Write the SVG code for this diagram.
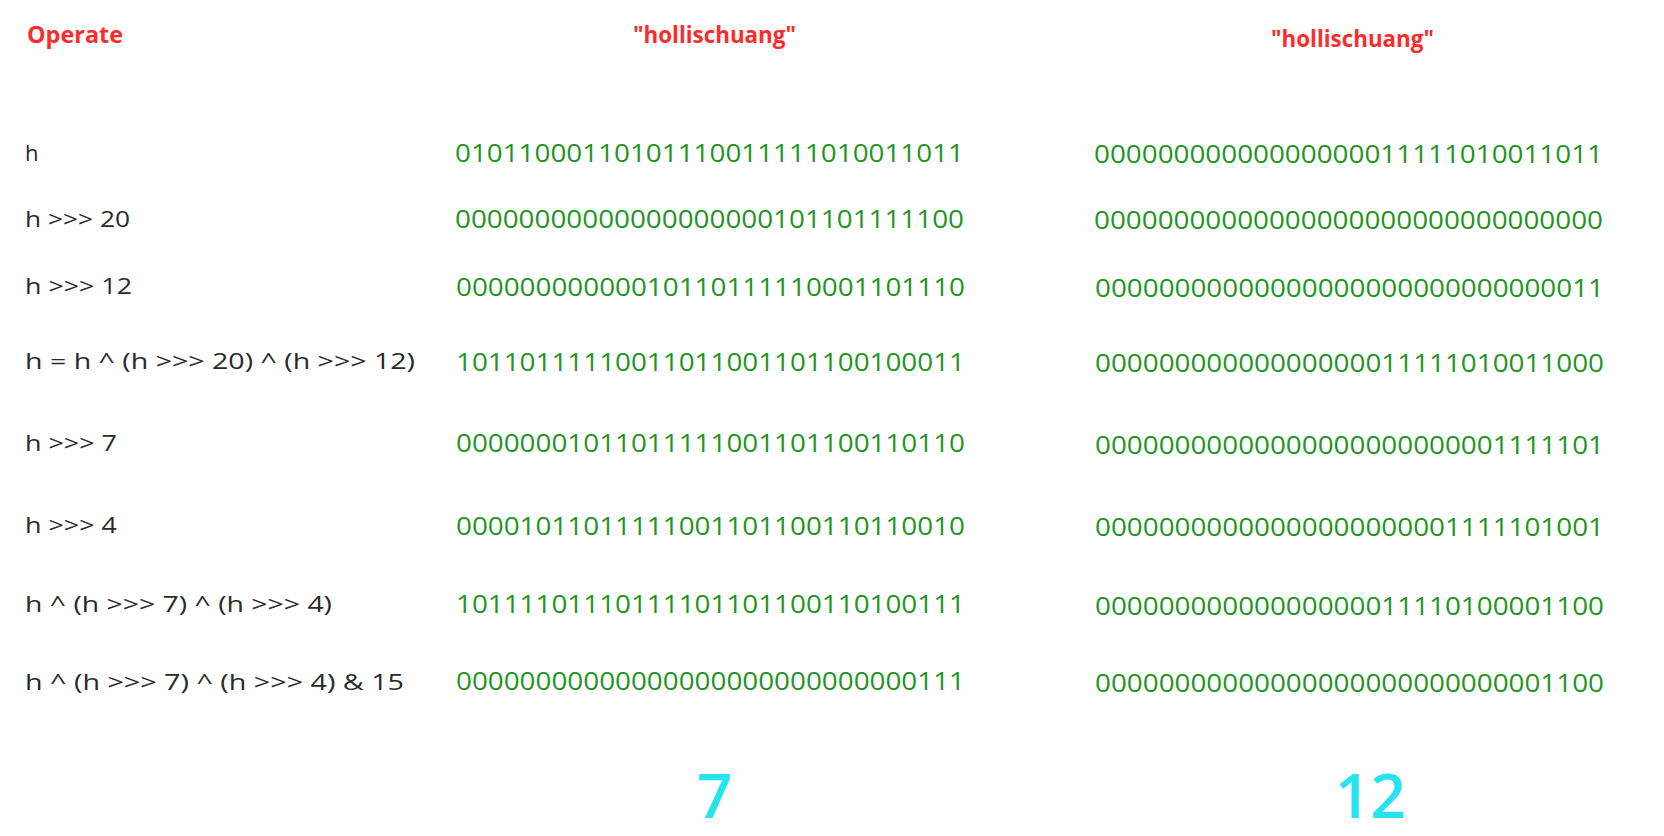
<svg xmlns="http://www.w3.org/2000/svg" width="1664" height="836" viewBox="0 0 1664 836">
<style>
.hdr{font-family:"Open Sans","Liberation Sans",sans-serif;font-weight:bold;font-size:24px;fill:#ff2a2a}
.lbl{font-family:"Open Sans","Liberation Sans",sans-serif;font-size:22px;font-weight:500;fill:#2a2a2a}
.bin{font-family:"Open Sans","Liberation Sans",sans-serif;font-size:26px;font-weight:500;fill:#1f951f}
.res{font-family:"Open Sans","Liberation Sans",sans-serif;font-size:62px;font-weight:600;fill:#26e3f0}
</style>
<rect width="1664" height="836" fill="#ffffff"/>
<g id="headers">
<text class="hdr" x="27" y="43" textLength="96" lengthAdjust="spacingAndGlyphs">Operate</text>
<text class="hdr" x="633" y="43" textLength="163" lengthAdjust="spacingAndGlyphs">"hollischuang"</text>
<text class="hdr" x="1271" y="47" textLength="163" lengthAdjust="spacingAndGlyphs">"hollischuang"</text>
</g>
<g id="labels">
<text class="lbl" x="25" y="161">h</text>
<text class="lbl" x="25" y="227" textLength="105" lengthAdjust="spacingAndGlyphs">h &gt;&gt;&gt; 20</text>
<text class="lbl" x="25" y="294" textLength="107" lengthAdjust="spacingAndGlyphs">h &gt;&gt;&gt; 12</text>
<text class="lbl" x="25" y="369" textLength="390" lengthAdjust="spacingAndGlyphs">h = h ^ (h &gt;&gt;&gt; 20) ^ (h &gt;&gt;&gt; 12)</text>
<text class="lbl" x="25" y="451" textLength="92" lengthAdjust="spacingAndGlyphs">h &gt;&gt;&gt; 7</text>
<text class="lbl" x="25" y="533" textLength="92" lengthAdjust="spacingAndGlyphs">h &gt;&gt;&gt; 4</text>
<text class="lbl" x="25" y="612" textLength="307" lengthAdjust="spacingAndGlyphs">h ^ (h &gt;&gt;&gt; 7) ^ (h &gt;&gt;&gt; 4)</text>
<text class="lbl" x="25" y="690" textLength="379" lengthAdjust="spacingAndGlyphs">h ^ (h &gt;&gt;&gt; 7) ^ (h &gt;&gt;&gt; 4) &amp; 15</text>
</g>
<g id="column-1">
<text class="bin" x="455" y="162" textLength="509" lengthAdjust="spacingAndGlyphs">01011000110101110011111010011011</text>
<text class="bin" x="455" y="228" textLength="509" lengthAdjust="spacingAndGlyphs">00000000000000000000101101111100</text>
<text class="bin" x="456" y="296" textLength="509" lengthAdjust="spacingAndGlyphs">00000000000010110111110001101110</text>
<text class="bin" x="456" y="371" textLength="509" lengthAdjust="spacingAndGlyphs">10110111110011011001101100100011</text>
<text class="bin" x="456" y="452" textLength="509" lengthAdjust="spacingAndGlyphs">00000001011011111001101100110110</text>
<text class="bin" x="456" y="535" textLength="509" lengthAdjust="spacingAndGlyphs">00001011011111001101100110110010</text>
<text class="bin" x="456" y="613" textLength="509" lengthAdjust="spacingAndGlyphs">10111101110111101101100110100111</text>
<text class="bin" x="456" y="690" textLength="509" lengthAdjust="spacingAndGlyphs">00000000000000000000000000000111</text>
</g>
<g id="column-2">
<text class="bin" x="1094" y="163" textLength="509" lengthAdjust="spacingAndGlyphs">00000000000000000011111010011011</text>
<text class="bin" x="1094" y="229" textLength="509" lengthAdjust="spacingAndGlyphs">00000000000000000000000000000000</text>
<text class="bin" x="1095" y="297" textLength="509" lengthAdjust="spacingAndGlyphs">00000000000000000000000000000011</text>
<text class="bin" x="1095" y="372" textLength="509" lengthAdjust="spacingAndGlyphs">00000000000000000011111010011000</text>
<text class="bin" x="1095" y="454" textLength="509" lengthAdjust="spacingAndGlyphs">00000000000000000000000001111101</text>
<text class="bin" x="1095" y="536" textLength="509" lengthAdjust="spacingAndGlyphs">00000000000000000000001111101001</text>
<text class="bin" x="1095" y="615" textLength="509" lengthAdjust="spacingAndGlyphs">00000000000000000011110100001100</text>
<text class="bin" x="1095" y="692" textLength="509" lengthAdjust="spacingAndGlyphs">00000000000000000000000000001100</text>
</g>
<g id="results">
<text class="res" x="697" y="818">7</text>
<text class="res" x="1335" y="818">12</text>
</g>
</svg>
